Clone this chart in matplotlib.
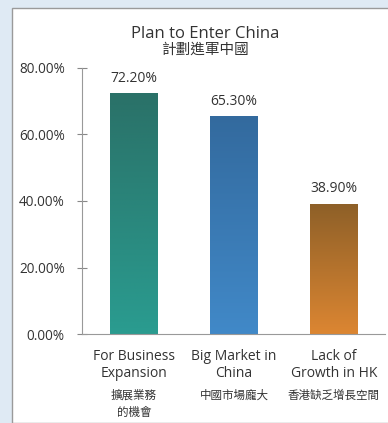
import numpy as np
import matplotlib
matplotlib.use("Agg")
import matplotlib.pyplot as plt
from matplotlib.colors import LinearSegmentedColormap
from matplotlib.patches import Rectangle

plt.rcParams['font.family'] = ['Open Sans', 'Noto Sans CJK TC', 'DejaVu Sans']

# data
categories_en = ["For Business\nExpansion", "Big Market in\nChina", "Lack of\nGrowth in HK"]
categories_zh = ["擴展業務\n的機會", "中國市場龐大", "香港缺乏增長空間"]
values = [72.2, 65.3, 38.9]
yticks = [0, 20, 40, 60, 80]

# gradient colours, (top, bottom) for each bar
grad_top = ["#2a7168", "#336a9e", "#8e6028"]
grad_bottom = ["#2a9c90", "#4189c8", "#dc8632"]

fig = plt.figure(figsize=(3.88, 4.23), dpi=100)
fig.patch.set_facecolor("#dfeaf4")
# white panel with thin grey frame
panel = Rectangle((12 / 388, 0), 1, 1 - 8 / 423, transform=fig.transFigure,
                  facecolor="white", edgecolor="#9a9a9a", linewidth=1.0, zorder=-10)
fig.patches.append(panel)

ax = fig.add_axes([82 / 388, 89 / 423, 303 / 388, 266 / 423])
ax.set_facecolor("none")

x = np.arange(len(values))
bars = ax.bar(x, values, width=0.48, color="none", zorder=2)

for i, b in enumerate(bars):
    cmap = LinearSegmentedColormap.from_list("g%d" % i, [grad_bottom[i], grad_top[i]])
    grad = np.linspace(0, 1, 256).reshape(-1, 1)
    x0 = b.get_x()
    ax.imshow(grad, cmap=cmap, origin="lower", aspect="auto",
              extent=[x0, x0 + b.get_width(), 0, b.get_height()], zorder=1)
    ax.text(b.get_x() + b.get_width() / 2, b.get_height() + 2.5,
            "%.2f%%" % values[i], ha="center", va="bottom", fontsize=10, color="#333333")

ax.set_xlim(-0.52, 2.51)
ax.set_ylim(0, 80)
ax.set_yticks(yticks)
ax.set_yticklabels(["%.2f%%" % v for v in yticks], fontsize=9.8, color="#333333")
ax.tick_params(axis="y", direction="inout", length=7, width=0.8, color="#888888", pad=9)
ax.set_xticks([])

for s in ["top", "right"]:
    ax.spines[s].set_visible(False)
ax.spines["left"].set_color("#999999")
ax.spines["bottom"].set_color("#999999")

# category labels, english then chinese
for i in range(len(values)):
    ax.text(x[i], -4.5, categories_en[i], ha="center", va="top", fontsize=10,
            color="#333333", linespacing=1.15)
    ax.text(x[i], -16.6, categories_zh[i], ha="center", va="top", fontsize=8.3,
            color="#333333", linespacing=1.35)

fig.text(205 / 388, 1 - 34 / 423, "Plan to Enter China", ha="center", va="center",
         fontsize=12, color="#333333")
fig.text(205 / 388, 1 - 50.5 / 423, "計劃進軍中國", ha="center", va="center",
         fontsize=10.5, color="#333333")

fig.savefig("out.png", dpi=100)
